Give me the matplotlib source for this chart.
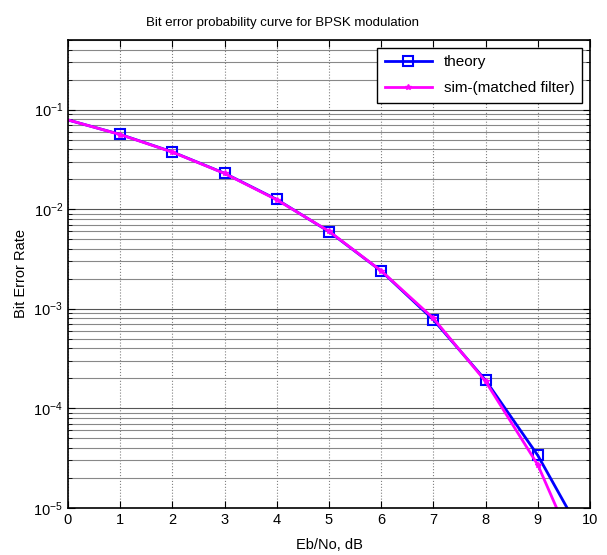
import numpy as np
import matplotlib.pyplot as plt

plt.rcParams['font.family'] = ['Liberation Sans', 'DejaVu Sans']

# Eb/No points in dB
ebno_db = [0, 1, 2, 3, 4, 5, 6, 7, 8, 9, 10]
# theoretical BER
ber_theory = [0.0786, 0.0563, 0.0375, 0.0229, 0.0125, 0.00595, 0.00239, 0.000773, 0.000191, 3.36e-5, 3.87e-6]
# simulated BER (matched filter)
ber_sim = [0.0787, 0.0561, 0.0374, 0.0228, 0.0124, 0.00599, 0.00240, 0.000800, 0.000186, 2.7e-5, 1.7e-6]

fig = plt.figure(figsize=(6.07, 5.55), dpi=100)
ax = fig.add_axes([0.112, 0.085, 0.860, 0.843])

ax.semilogy(ebno_db, ber_theory, color='#0000ff', linewidth=2, marker='s', markersize=7,
            markerfacecolor='none', markeredgewidth=1.5, markevery=range(1, 10), label='theory')
ax.semilogy(ebno_db, ber_sim, color='#ff00ff', linewidth=2, marker='*', markersize=4,
            markevery=range(1, 10), label='sim-(matched filter)')

ax.set_xlim(0, 10)
ax.set_ylim(1e-5, 0.5)
ax.set_xticks(range(0, 11))

ax.grid(True, which='major', axis='x', color='#808080', linestyle=':', linewidth=0.8)
ax.grid(True, which='major', axis='y', color='#555555', linestyle='-', linewidth=0.8)
ax.grid(True, which='minor', axis='y', color='#888888', linestyle='-', linewidth=0.8)
ax.set_axisbelow(True)

ax.tick_params(which='both', direction='in', top=True, right=True, labelsize=10.5)
ax.tick_params(which='major', length=5)
ax.tick_params(which='minor', length=3)
for s in ax.spines.values():
    s.set_linewidth(1.2)

ax.set_title('Bit error probability curve for BPSK modulation', fontsize=9.5, pad=10, x=0.41)
ax.set_xlabel('Eb/No, dB', fontsize=10.5, labelpad=8)
ax.set_ylabel('Bit Error Rate', fontsize=10.5)

leg = ax.legend(loc='upper right', fontsize=11, fancybox=False, framealpha=1,
                edgecolor='black', borderaxespad=0.5, handlelength=3.1,
                labelspacing=0.8, borderpad=0.5)
leg.get_frame().set_linewidth(1.0)

fig.savefig('out.png', dpi=100)
